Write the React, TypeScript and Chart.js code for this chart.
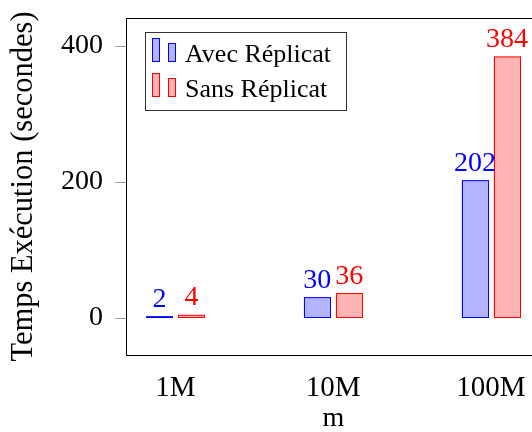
import React, { useEffect, useRef } from 'react';
import { Chart, registerables } from 'chart.js';

Chart.register(...registerables);

// ---- data ----
const categories = ['1M', '10M', '100M'];
const categoryIndex = [0, 1, 2];
const avecReplicat = [2, 30, 202];
const sansReplicat = [4, 36, 384];
const yTickValues = [0, 200, 400];
const seriesNames = ['Avec Réplicat', 'Sans Réplicat'];
const xTitle = 'm';
const yTitle = 'Temps Exécution (secondes)';

const FONT = "'Liberation Serif', 'Times New Roman', serif";
const BLUE = '#0000ff';
const BLUE_FILL = 'rgb(179,179,255)';
const RED = '#ff0000';
const RED_FILL = 'rgb(255,179,179)';

export default function App() {
  const ref = useRef<HTMLCanvasElement>(null);

  useEffect(() => {
    const canvas = ref.current;
    if (!canvas) return;

    // outline each bar with a stroke centred on its edge (as pgfplots does), then label it
    const barOutlinesAndLabels = {
      id: 'barOutlinesAndLabels',
      afterDatasetsDraw(chart: any) {
        const ctx = chart.ctx;
        ctx.save();
        chart.data.datasets.forEach((ds: any, i: number) => {
          const meta = chart.getDatasetMeta(i);
          ctx.strokeStyle = ds.outlineColor;
          ctx.lineWidth = 1;
          meta.data.forEach((bar: any) => {
            const left = Math.round(bar.x - bar.width / 2) + 0.5;
            const right = Math.round(bar.x + bar.width / 2) - 0.5;
            const top = Math.min(bar.y, bar.base);
            const bottom = Math.max(bar.y, bar.base);
            ctx.strokeRect(left, top, right - left, bottom - top);
          });
        });
        ctx.font = `28px ${FONT}`;
        ctx.textAlign = 'center';
        ctx.textBaseline = 'alphabetic';
        chart.data.datasets.forEach((ds: any, i: number) => {
          const meta = chart.getDatasetMeta(i);
          ctx.fillStyle = ds.outlineColor;
          meta.data.forEach((bar: any, j: number) => {
            const v = ds.data[j].y;
            ctx.fillText(String(v), bar.x, bar.y - 10);
          });
        });
        ctx.restore();
      },
    };

    const frameAndLegend = {
      id: 'frameAndLegend',
      afterDraw(chart: any) {
        const ctx = chart.ctx;
        const a = chart.chartArea;
        ctx.save();
        // frame
        ctx.strokeStyle = '#000';
        ctx.lineWidth = 1;
        ctx.strokeRect(Math.round(a.left) - 0.5, Math.round(a.top) + 0.5, a.right - a.left, Math.round(a.bottom) - Math.round(a.top));
        // legend
        const lx = Math.round(a.left) + 19;
        const ly = Math.round(a.top) + 14;
        ctx.strokeStyle = '#333';
        ctx.strokeRect(lx - 0.5, ly + 0.5, 201, 78);
        const fills = [BLUE_FILL, RED_FILL];
        const strokes = [BLUE, RED];
        ctx.font = `26px ${FONT}`;
        ctx.textAlign = 'left';
        ctx.textBaseline = 'alphabetic';
        seriesNames.forEach((name, i) => {
          const base = ly + 30 + i * 35;
          ctx.fillStyle = fills[i];
          ctx.strokeStyle = strokes[i];
          ctx.lineWidth = 1;
          ctx.fillRect(lx + 6, base - 24, 7, 24);
          ctx.strokeRect(lx + 6.5, base - 23.5, 7, 23);
          ctx.fillRect(lx + 22, base - 19, 7, 19);
          ctx.strokeRect(lx + 22.5, base - 18.5, 7, 18);
          ctx.fillStyle = '#000';
          ctx.fillText(name, lx + 39, base);
        });
        ctx.restore();
      },
    };

    const barStyle = {
      borderWidth: 0,
      inflateAmount: 0,
      categoryPercentage: 0.4057,
      barPercentage: 0.84375,
    };

    const chart = new Chart(canvas, {
      type: 'bar',
      data: {
        datasets: [
          {
            label: seriesNames[0],
            data: categoryIndex.map((x, i) => ({ x, y: avecReplicat[i] })),
            backgroundColor: BLUE_FILL,
            borderColor: BLUE,
            outlineColor: BLUE,
            ...barStyle,
          },
          {
            label: seriesNames[1],
            data: categoryIndex.map((x, i) => ({ x, y: sansReplicat[i] })),
            backgroundColor: RED_FILL,
            borderColor: RED,
            outlineColor: RED,
            ...barStyle,
          },
        ],
      },
      options: {
        responsive: false,
        devicePixelRatio: 1,
        animation: false,
        layout: { padding: { top: 18, right: 5, left: 0, bottom: 0 } },
        plugins: {
          legend: { display: false },
          tooltip: { enabled: false },
        },
        scales: {
          x: {
            type: 'linear',
            min: -0.3074,
            max: 2.3106,
            offset: false,
            afterBuildTicks: (axis: any) => {
              axis.ticks = categoryIndex.map((v) => ({ value: v }));
            },
            afterFit: (s: any) => {
              s.height = 77;
              s.paddingLeft = 0;
              s.paddingRight = 0;
              s.paddingTop = 0;
              s.paddingBottom = 0;
            },
            grid: { display: false, drawTicks: false, tickLength: 0, offset: false },
            border: { display: false },
            ticks: {
              color: '#000',
              font: { family: FONT, size: 29 },
              padding: 16,
              maxRotation: 0,
              autoSkip: false,
              callback: (v: any) => categories[Number(v)] ?? '',
            },
            title: {
              display: true,
              text: xTitle,
              color: '#000',
              font: { family: FONT, size: 28, lineHeight: 1 },
              padding: { top: 0, bottom: -1 },
            },
          },
          y: {
            min: -54.4,
            max: 441.2,
            afterBuildTicks: (axis: any) => {
              axis.ticks = yTickValues.map((v) => ({ value: v }));
            },
            afterFit: (s: any) => {
              s.width = 127;
              s.paddingTop = 0;
              s.paddingBottom = 0;
              s.paddingLeft = 0;
              s.paddingRight = 0;
            },
            grid: {
              display: true,
              drawOnChartArea: false,
              drawTicks: true,
              tickLength: 12,
              color: '#a0a0a0',
              lineWidth: 1,
            },
            border: { display: false },
            ticks: {
              color: '#000',
              font: { family: FONT, size: 28 },
              padding: 12,
            },
            title: {
              display: true,
              text: yTitle,
              color: '#000',
              font: { family: FONT, size: 30.5 },
              padding: { top: 6, bottom: 0 },
            },
          },
        },
      },
      plugins: [barOutlinesAndLabels, frameAndLegend],
    } as any);

    return () => chart.destroy();
  }, []);

  return (
    <div style={{ position: 'fixed', left: 0, top: 0, width: 532, height: 432, overflow: 'hidden', background: '#fff' }}>
      <canvas ref={ref} width={545} height={432} style={{ display: 'block' }} />
    </div>
  );
}
